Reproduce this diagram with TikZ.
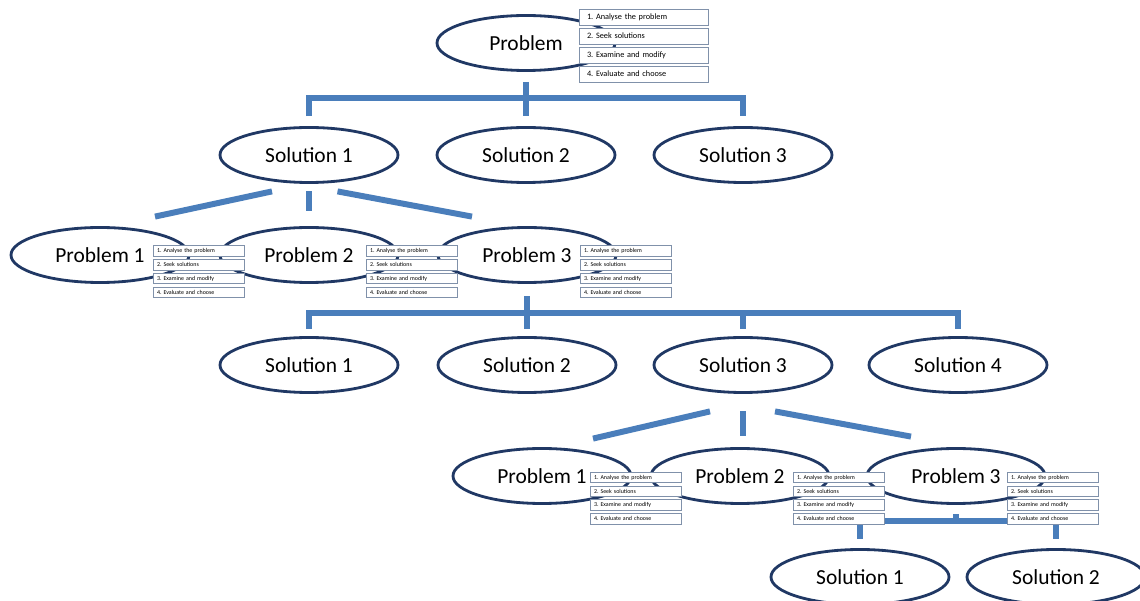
\documentclass[tikz,border=0pt]{standalone}
\usepackage{fontspec}
\setmainfont{Carlito}
\usetikzlibrary{shapes.geometric}
\definecolor{ovalblue}{RGB}{32,56,100}
\definecolor{linkblue}{RGB}{74,126,187}
\definecolor{boxgray}{RGB}{128,145,170}
\frenchspacing

\begin{document}
\begin{tikzpicture}[
    oval/.style={draw=ovalblue, line width=1.6pt, ellipse, minimum width=3.56cm, minimum height=1.1cm, inner sep=0pt, font=\fontsize{12.2}{14}\selectfont},
    link/.style={draw=linkblue, line width=3.4pt},
    stepbox/.style={draw=boxgray, fill=white, line width=0.5pt, text width=2.26cm, inner xsep=0.16cm, inner ysep=0pt, minimum height=0.32cm, align=left, font=\fontsize{4.7}{5}\selectfont},
    tinybox/.style={stepbox, text width=1.66cm, inner xsep=0.08cm, minimum height=0.21cm, font=\fontsize{3.4}{4}\selectfont}]
                    \useasboundingbox (0,0) rectangle (22.8,-12.02);

                    \node[oval] (p) at (10.52,-0.86) {Problem};
                    \node[oval] (s1) at (6.18,-3.1) {Solution 1};
                    \node[oval] (s2) at (10.52,-3.1) {Solution 2};
                    \node[oval] (s3) at (14.86,-3.1) {Solution 3};
                    \node[oval] (p1) at (2,-5.1) {Problem 1};
                    \node[oval] (p2) at (6.18,-5.1) {Problem 2};
                    \node[oval] (p3) at (10.54,-5.1) {Problem 3};
                    \node[oval] (t1) at (6.18,-7.3) {Solution 1};
                    \node[oval] (t2) at (10.54,-7.3) {Solution 2};
                    \node[oval] (t3) at (14.86,-7.3) {Solution 3};
                    \node[oval] (t4) at (19.16,-7.3) {Solution 4};
                    \node[oval] (q1) at (10.84,-9.52) {Problem 1};
                    \node[oval] (q2) at (14.8,-9.52) {Problem 2};
                    \node[oval] (q3) at (19.12,-9.52) {Problem 3};
                    \node[oval] (u1) at (17.2,-11.54) {Solution 1};
                    \node[oval] (u2) at (21.12,-11.54) {Solution 2};

                    \coordinate (b1) at (10.52,-1.96);
                    \coordinate (b2) at (10.54,-6.26);
                    \coordinate (b3) at (19.12,-10.42);

                    \draw[link] ([yshift=-2mm]p.south) -- ([yshift=2mm]s2.north);
                    \draw[link] ([yshift=2mm]s1.north) |- (b1) -| ([yshift=2mm]s3.north);
                    \draw[link] ([shift={(-0.74,-0.15)}]s1.south) -- ([shift={(1.1,0.19)}]p1.north);
                    \draw[link] ([yshift=-1.5mm]s1.south) -- ([yshift=3mm]p2.north);
                    \draw[link] ([shift={(0.57,-0.15)}]s1.south) -- ([shift={(-1.1,0.19)}]p3.north);
                    \draw[link] ([yshift=-2.5mm]p3.south) -- ([yshift=1.5mm]t2.north);
                    \draw[link] ([yshift=1.5mm]t1.north) |- (b2) -| ([yshift=1.5mm]t4.north);
                    \draw[link] (b2 -| t3) -- ([yshift=1.5mm]t3.north);
                    \draw[link] ([shift={(-0.66,-0.35)}]t3.south) -- ([shift={(1.02,0.17)}]q1.north);
                    \draw[link] ([yshift=-3.5mm]t3.south) -- ([yshift=2.3mm]t3.south |- q2.north);
                    \draw[link] ([shift={(0.64,-0.35)}]t3.south) -- ([shift={(-0.9,0.21)}]q3.north);
                    \draw[link] ([yshift=-1.9mm]q3.south) -- (b3);
                    \draw[link] ([yshift=1.9mm]u1.north) |- (b3) -| ([yshift=1.9mm]u2.north);

                    % the four steps beside each problem
                    \foreach \i/\t in {1/Analyse the problem, 2/Seek solutions, 3/Examine and modify, 4/Evaluate and choose}
                        \node[stepbox] (p-\i) at (12.87,{-0.34-0.38*(\i-1)}) {\i. \t};
                    \foreach \n/\x/\y in {p1/3.97/-5.02, p2/8.23/-5.02, p3/12.51/-5.02, q1/12.71/-9.55, q2/16.77/-9.55, q3/21.05/-9.55}
                        \foreach \i/\t in {1/Analyse the problem, 2/Seek solutions, 3/Examine and modify, 4/Evaluate and choose}
                            \node[tinybox] (\n-\i) at (\x,{\y-0.275*(\i-1)}) {\i. \t};
                \end{tikzpicture}
\end{document}
